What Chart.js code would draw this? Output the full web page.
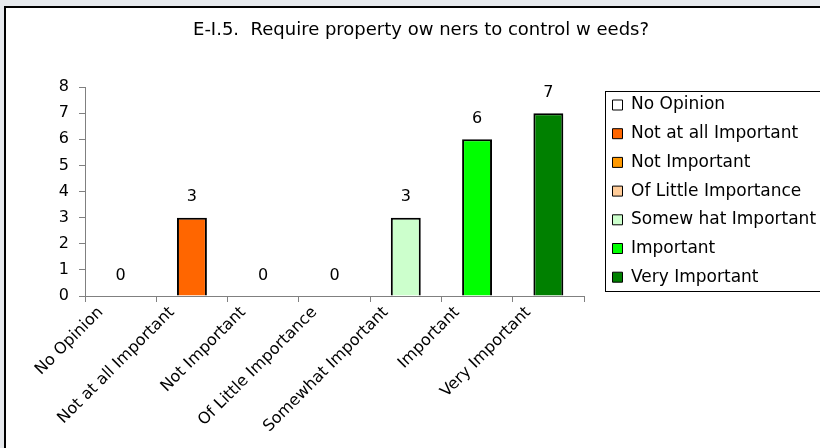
<!DOCTYPE html>
<html>
<head>
<meta charset="utf-8">
<script src="https://cdn.jsdelivr.net/npm/chart.js@4.4.1/dist/chart.umd.min.js"></script>
<style>
html,body{margin:0;padding:0;width:820px;height:448px;overflow:hidden;background:#e6e9ed;}
#panel{position:absolute;left:4px;top:6px;width:840px;height:460px;background:#ffffff;border-top:2px solid #000;border-left:2px solid #000;}
#wrap{position:absolute;left:0;top:0;width:820px;height:448px;}
canvas{display:block;}
</style>
</head>
<body>
<div id="panel"></div>
<div id="wrap"><canvas id="c" width="820" height="448"></canvas></div>
<script>
const titleText = 'E-I.5.  Require property ow ners to control w eeds?';
const categories = ['No Opinion', 'Not at all Important', 'Not Important', 'Of Little Importance', 'Somewhat Important', 'Important', 'Very Important'];
const legendLabels = ['No Opinion', 'Not at all Important', 'Not Important', 'Of Little Importance', 'Somew hat Important', 'Important', 'Very Important'];
const values = [0, 3, 0, 0, 3, 6, 7];
const colors = ['#FFFFFF', '#FF6600', '#FF9900', '#FFCC99', '#CCFFCC', '#00FF00', '#008000'];
const yTicks = [0, 1, 2, 3, 4, 5, 6, 7, 8];

const FONT = 'DejaVu Sans';
const AXIS_GRAY = '#808080';

const legendPlacer = {
  id: 'legendPlacer',
  afterInit(chart) {
    const lg = chart.legend;
    const orig = lg.fit;
    lg.fit = function () { orig.call(this); this.width = 236; };
  },
  afterLayout(chart) {
    const lg = chart.legend;
    lg.left = 600.8; lg.top = 84.8; lg.right = 820; lg.bottom = 448;
    lg.width = lg.right - lg.left; lg.height = lg.bottom - lg.top;
  },
  afterDraw(chart) {
    const ctx = chart.ctx;
    ctx.save();
    ctx.strokeStyle = '#000';
    ctx.lineWidth = 1;
    ctx.strokeRect(605.5, 91.5, 240, 200);
    ctx.restore();
  }
};

const valueLabels = {
  id: 'valueLabels',
  afterDatasetsDraw(chart) {
    const ctx = chart.ctx;
    const meta = chart.getDatasetMeta(0);
    ctx.save();
    ctx.font = '16px "' + FONT + '"';
    ctx.fillStyle = '#000';
    ctx.textAlign = 'center';
    ctx.textBaseline = 'middle';
    meta.data.forEach((bar, i) => {
      ctx.fillText(String(values[i]), bar.x, bar.y - 20.5);
    });
    ctx.restore();
  }
};

new Chart(document.getElementById('c'), {
  type: 'bar',
  data: {
    labels: categories,
    datasets: [{
      data: values,
      backgroundColor: colors,
      borderColor: '#000000',
      borderWidth: 2,
      barPercentage: 0.42,
      categoryPercentage: 1.0
    }]
  },
  options: {
    responsive: false,
    animation: false,
    devicePixelRatio: 1,
    layout: { padding: { left: 22, right: 0, top: 0, bottom: 0 } },
    plugins: {
      title: {
        display: true,
        text: titleText,
        color: '#000',
        font: { family: FONT, size: 18, weight: 'normal' },
        padding: { top: 19.7, bottom: 45.7 }
      },
      legend: {
        display: true,
        position: 'right',
        align: 'start',
        labels: {
          color: '#000',
          font: { family: FONT, size: 17 },
          boxWidth: 10,
          boxHeight: 10,
          padding: 11.7,
          generateLabels: () => legendLabels.map((t, i) => ({
            text: t,
            fillStyle: colors[i],
            strokeStyle: '#000000',
            lineWidth: 1,
            hidden: false,
            index: i,
            fontColor: '#000'
          }))
        }
      },
      tooltip: { enabled: false }
    },
    scales: {
      x: {
        grid: { display: true, drawOnChartArea: false, drawTicks: true, tickLength: 6, color: AXIS_GRAY, offset: true },
        border: { display: true, color: AXIS_GRAY, width: 1 },
        ticks: {
          color: '#000',
          font: { family: FONT, size: 16 },
          maxRotation: 45,
          minRotation: 45,
          autoSkip: false,
          padding: 1,
          labelOffset: -20
        },
        afterFit(scale) { scale.height = 152; }
      },
      y: {
        min: 0,
        max: 8,
        grid: { display: true, drawOnChartArea: false, drawTicks: true, tickLength: 6, color: AXIS_GRAY },
        border: { display: true, color: AXIS_GRAY, width: 1 },
        afterBuildTicks(scale) { scale.ticks = yTicks.map(v => ({ value: v })); },
        ticks: {
          color: '#000',
          font: { family: FONT, size: 16 },
          padding: 10,
          stepSize: 1
        },
        afterFit(scale) { scale.width = 63; }
      }
    }
  },
  plugins: [legendPlacer, valueLabels]
});
</script>
</body>
</html>
